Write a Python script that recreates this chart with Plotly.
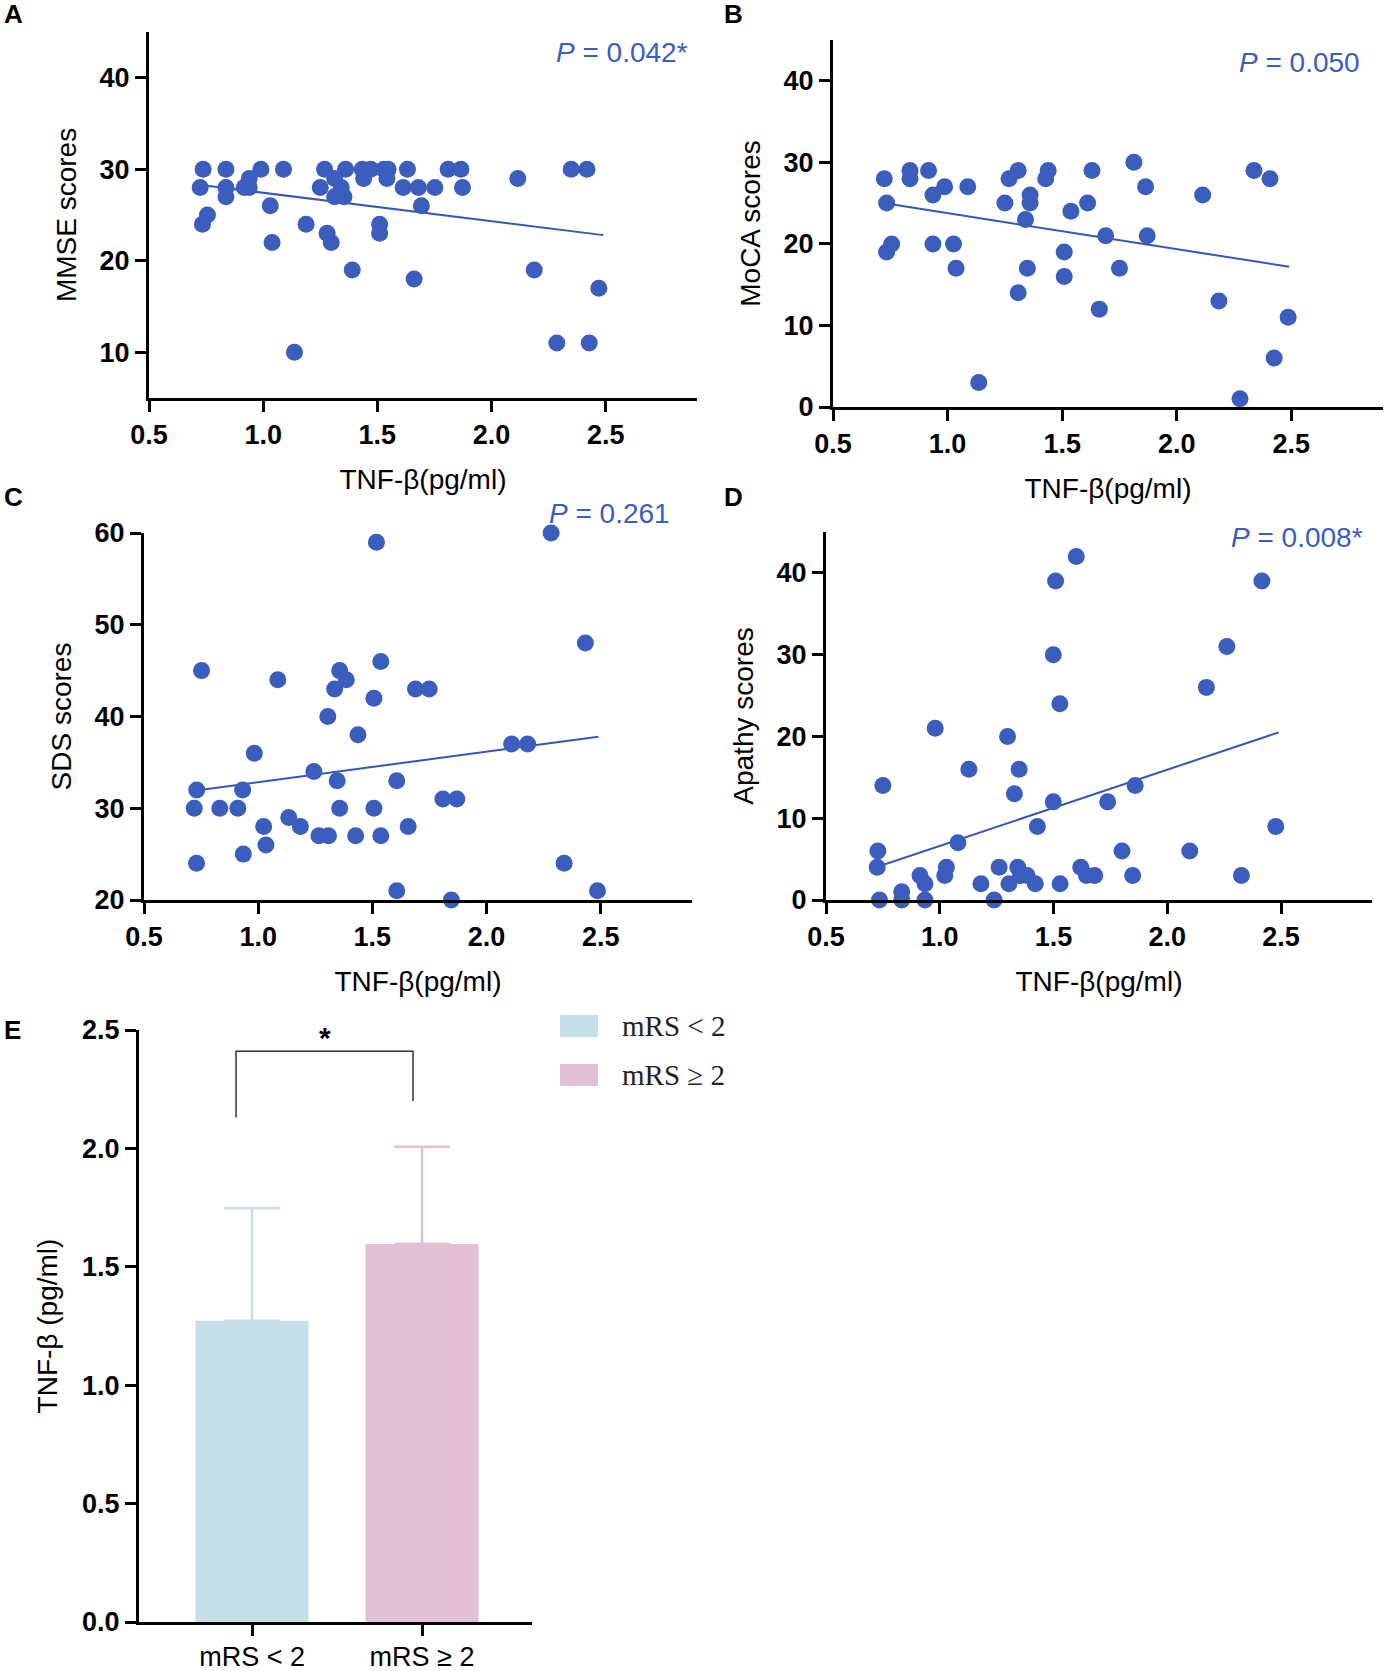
import plotly.graph_objects as go

W, H = 1386, 1671

# ---------------- data ----------------
x_ticks = [0.5, 1.0, 1.5, 2.0, 2.5]
x_ticktext = ["0.5", "1.0", "1.5", "2.0", "2.5"]

mmse_x = [0.737, 0.837, 0.99, 1.089, 1.269, 1.361, 1.434, 1.471, 1.528, 1.547, 1.632, 1.81, 1.866, 2.349, 2.418,
          0.724, 0.837, 0.837, 0.917, 0.939, 0.939, 1.031, 0.756, 0.734, 1.039, 1.188, 1.25, 1.313, 1.313, 1.342,
          1.354, 1.28, 1.298, 1.39, 1.44, 1.542, 1.51, 1.51, 1.613, 1.68, 1.693, 1.752, 1.661, 1.873, 2.115,
          2.187, 2.286, 2.428, 1.137, 2.47]
mmse_y = [30, 30, 30, 30, 30, 30, 30, 30, 30, 30, 30, 30, 30, 30, 30,
          28, 28, 27, 28, 28, 29, 26, 25, 24, 22, 24, 28, 29, 27, 28,
          27, 23, 22, 19, 29, 29, 24, 23, 28, 28, 26, 28, 18, 28, 29,
          19, 11, 11, 10, 17]
mmse_fit_x = [0.72, 2.49]
mmse_fit_y = [28.3, 22.8]

moca_x = [0.724, 0.734, 0.756, 0.734, 0.836, 0.836, 0.917, 0.936, 0.936, 0.987, 1.026, 1.037, 1.088, 1.136,
          1.25, 1.268, 1.308, 1.308, 1.34, 1.36, 1.36, 1.348, 1.428, 1.439, 1.509, 1.509, 1.538, 1.611, 1.63,
          1.662, 1.69, 1.75, 1.813, 1.864, 1.871, 2.113, 2.184, 2.337, 2.407, 2.425, 2.486, 2.276]
moca_y = [28, 25, 20, 19, 29, 28, 29, 26, 20, 27, 20, 17, 27, 3,
          25, 28, 29, 14, 23, 26, 25, 17, 28, 29, 19, 16, 24, 25, 29,
          12, 21, 17, 30, 27, 21, 26, 13, 29, 28, 6, 11, 1]
moca_fit_x = [0.72, 2.49]
moca_fit_y = [25.0, 17.2]

sds_x = [1.518, 2.283, 2.433, 0.752, 1.086, 1.357, 1.386, 1.335, 1.537, 1.507, 1.689, 1.749, 1.305, 1.437,
         0.983, 2.11, 2.18, 1.244, 0.731, 0.932, 1.346, 1.607, 0.72, 0.832, 0.911, 1.357, 1.507, 1.809, 1.87,
         1.134, 1.024, 1.185, 1.266, 1.308, 1.427, 1.537, 1.657, 1.034, 0.935, 0.73, 2.34, 1.607, 1.846, 2.486]
sds_y = [59, 60, 48, 45, 44, 45, 44, 43, 46, 42, 43, 43, 40, 38,
         36, 37, 37, 34, 32, 32, 33, 33, 30, 30, 30, 30, 30, 31, 31,
         29, 28, 28, 27, 27, 27, 27, 28, 26, 25, 24, 24, 21, 20, 21]
sds_fit_x = [0.72, 2.49]
sds_fit_y = [31.9, 37.8]

apathy_x = [1.6, 1.509, 1.499, 1.528, 2.172, 2.262, 0.98, 1.298, 1.128, 1.349, 0.75, 1.328, 1.499, 1.738,
            1.859, 1.429, 1.08, 0.728, 1.801, 2.099, 2.416, 2.477,
            0.725, 0.735, 0.833, 0.833, 0.913, 0.935, 0.935, 1.029, 1.022, 1.181, 1.239, 1.261, 1.304, 1.343,
            1.355, 1.384, 1.42, 1.529, 1.62, 1.645, 1.681, 1.848, 2.326]
apathy_y = [42, 39, 30, 24, 26, 31, 21, 20, 16, 16, 14, 13, 12, 12,
            14, 9, 7, 6, 6, 6, 39, 9,
            4, 0, 1, 0, 3, 2, 0, 4, 3, 2, 0, 4, 2, 4,
            3, 3, 2, 2, 4, 3, 3, 3, 3]
apathy_fit_x = [0.72, 2.49]
apathy_fit_y = [4.0, 20.5]

p_texts = ["<i>P</i> = 0.042*", "<i>P</i> = 0.050", "<i>P</i> = 0.261", "<i>P</i> = 0.008*"]
y_titles = ["MMSE scores", "MoCA scores", "SDS scores", "Apathy scores"]

groups = ["mRS < 2", "mRS ≥ 2"]
group_pos = [0, 1]
tnf_mean = [1.272, 1.596]
tnf_err = [0.475, 0.411]
bracket_x = [-0.094, -0.094, 0.947, 0.947]
bracket_y = [2.13, 2.41, 2.41, 2.20]
star_x, star_y = 0.43, 2.47
e_ticks = [0.0, 0.5, 1.0, 1.5, 2.0, 2.5]
e_ticktext = ["0.0", "0.5", "1.0", "1.5", "2.0", "2.5"]

# ---------------- styling ----------------
DOT = "#3A5DBE"
LINE = "#3557B8"
PCOL = "#3B5CC0"
BAR_COLS = ["#C6DEE8", "#E4C0D5"]
SANS = "Liberation Sans"
SERIF = "Liberation Serif"


def fx(px):
    return px / W


def fy(py):
    return 1 - py / H


fig = go.Figure()

# panel geometry in pixels: (x_left, x_right, y_top, y_bottom)
panels = [
    dict(xd=(149, 697), yd=(32, 398), yr=[5, 45], yt=[10, 20, 30, 40]),
    dict(xd=(833, 1383), yd=(40, 407), yr=[0, 45], yt=[0, 10, 20, 30, 40]),
    dict(xd=(144, 692), yd=(533, 900), yr=[20, 60], yt=[20, 30, 40, 50, 60]),
    dict(xd=(826, 1372), yd=(532, 900), yr=[0, 45], yt=[0, 10, 20, 30, 40]),
]
series = [(mmse_x, mmse_y, mmse_fit_x, mmse_fit_y),
          (moca_x, moca_y, moca_fit_x, moca_fit_y),
          (sds_x, sds_y, sds_fit_x, sds_fit_y),
          (apathy_x, apathy_y, apathy_fit_x, apathy_fit_y)]

tickfont = dict(family=SANS, size=27, color="black", weight="bold")
titlefont = dict(family=SANS, size=28, color="black")

layout_axes = {}
for i, (p, (sx, sy, lx, ly)) in enumerate(zip(panels, series), start=1):
    xa = "x" if i == 1 else f"x{i}"
    ya = "y" if i == 1 else f"y{i}"
    fig.add_trace(go.Scatter(x=lx, y=ly, mode="lines", line=dict(color=LINE, width=2),
                             xaxis=xa, yaxis=ya, showlegend=False, hoverinfo="skip"))
    fig.add_trace(go.Scatter(x=sx, y=sy, mode="markers",
                             marker=dict(size=17, color=DOT, line=dict(width=0)),
                             xaxis=xa, yaxis=ya, showlegend=False, cliponaxis=False))
    xkey = "xaxis" if i == 1 else f"xaxis{i}"
    ykey = "yaxis" if i == 1 else f"yaxis{i}"
    layout_axes[xkey] = dict(
        domain=[fx(p["xd"][0]), fx(p["xd"][1])], anchor=ya, range=[0.5, 2.9],
        tickvals=x_ticks, ticktext=x_ticktext, ticks="outside", ticklen=11, tickwidth=3,
        tickcolor="black", showline=True, linewidth=3, linecolor="black", showgrid=False,
        zeroline=False, tickfont=tickfont,
        title=dict(text="TNF-β(pg/ml)", font=titlefont, standoff=20), automargin=False)
    layout_axes[ykey] = dict(
        domain=[fy(p["yd"][1]), fy(p["yd"][0])], anchor=xa, range=p["yr"],
        tickvals=p["yt"], ticks="outside", ticklen=11, tickwidth=3,
        tickcolor="black", showline=True, linewidth=3, linecolor="black", showgrid=False,
        zeroline=False, tickfont=tickfont,
        title=dict(text=y_titles[i - 1], font=titlefont, standoff=15), automargin=False)

# ---------------- panel E ----------------
for pos, mean, err, col in zip(group_pos, tnf_mean, tnf_err, BAR_COLS):
    fig.add_trace(go.Bar(x=[pos], y=[mean], width=0.665,
                         marker=dict(color=col, line=dict(width=0)),
                         error_y=dict(type="data", array=[err], arrayminus=[0], symmetric=False,
                                      color=col, thickness=2.5, width=28),
                         xaxis="x5", yaxis="y5", showlegend=False))
fig.add_trace(go.Scatter(x=bracket_x, y=bracket_y, mode="lines", line=dict(color="#333333", width=1.5),
                         xaxis="x5", yaxis="y5", showlegend=False, hoverinfo="skip", cliponaxis=False))

layout_axes["xaxis5"] = dict(
    domain=[fx(139), fx(532)], anchor="y5", range=[-0.665, 1.647],
    tickvals=group_pos, ticktext=groups, ticks="outside", ticklen=11, tickwidth=3,
    tickcolor="black", showline=True, linewidth=3, linecolor="black", showgrid=False,
    zeroline=False, tickfont=dict(family=SANS, size=27, color="black"), automargin=False,
    ticklabelstandoff=-2)
layout_axes["yaxis5"] = dict(
    domain=[fy(1622), fy(1030)], anchor="x5", range=[0, 2.5],
    tickvals=e_ticks, ticktext=e_ticktext, ticks="outside", ticklen=11, tickwidth=3,
    tickcolor="black", showline=True, linewidth=3, linecolor="black", showgrid=False,
    zeroline=False, tickfont=tickfont,
    title=dict(text="TNF-β (pg/ml)", font=titlefont, standoff=17), automargin=False)

annotations = []
# P-value texts (right aligned) in paper coords
p_pos = [(690, 53), (1362, 62), (672, 513), (1365, 538)]
for t, (px, py) in zip(p_texts, p_pos):
    annotations.append(dict(text=t, x=fx(px), y=fy(py), xref="paper", yref="paper",
                            xanchor="right", yanchor="middle", showarrow=False,
                            font=dict(family=SANS, size=28, color=PCOL)))
# panel letters
for letter, (px, py) in zip("ABCDE", [(2, 14), (722, 14), (2, 497), (722, 497), (2, 1030)]):
    annotations.append(dict(text=f"<b>{letter}</b>", x=fx(px), y=fy(py), xref="paper", yref="paper",
                            xanchor="left", yanchor="middle", showarrow=False,
                            font=dict(family=SANS, size=26, color="black")))
# significance star
annotations.append(dict(text="<b>*</b>", x=star_x, y=star_y, xref="x5", yref="y5",
                        xanchor="center", yanchor="middle", showarrow=False,
                        font=dict(family=SANS, size=30, color="black")))
# legend for panel E
shapes = []
for name, col, py in zip(groups, BAR_COLS, [1026, 1075]):
    shapes.append(dict(type="rect", xref="paper", yref="paper", x0=fx(560), x1=fx(598),
                       y0=fy(py + 11), y1=fy(py - 11), fillcolor=col, line=dict(width=0)))
    annotations.append(dict(text=name, x=fx(620), y=fy(py), xref="paper", yref="paper",
                            xanchor="left", yanchor="middle", showarrow=False,
                            font=dict(family=SERIF, size=29, color="#222222")))

fig.update_layout(
    width=W, height=H, autosize=False,
    margin=dict(l=0, r=0, t=0, b=0),
    paper_bgcolor="white", plot_bgcolor="white",
    annotations=annotations, shapes=shapes, barmode="overlay",
    **layout_axes,
)

fig.write_html("out.html", config={"displayModeBar": False},
               post_script="document.body.style.margin='0px';")
